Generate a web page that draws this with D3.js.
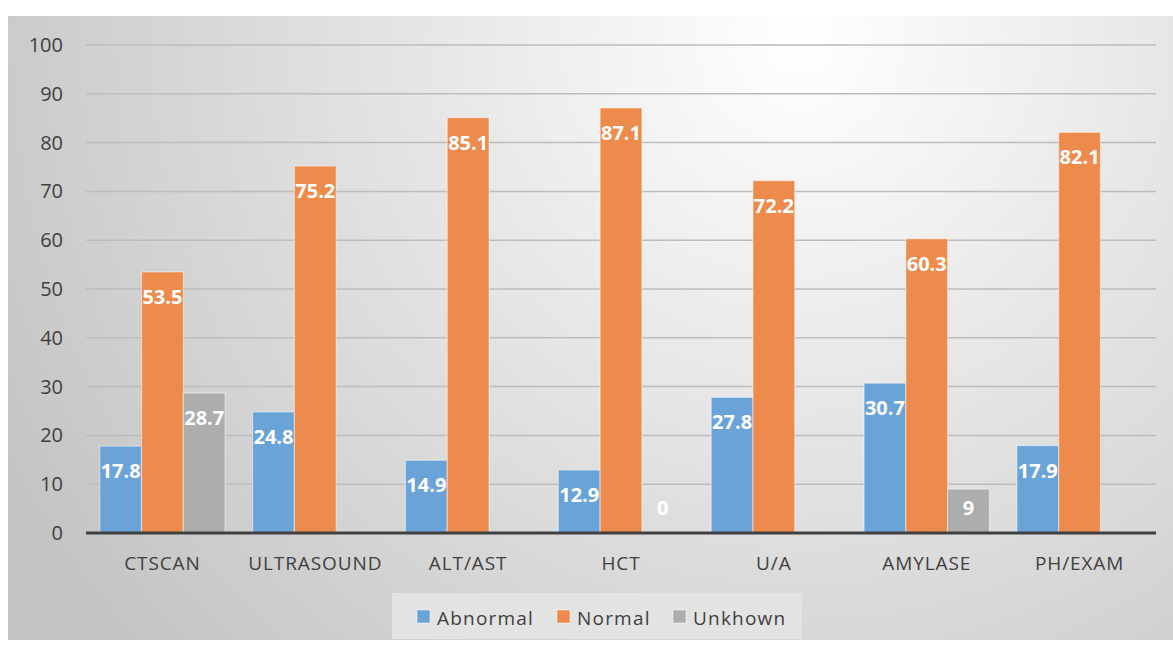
<!DOCTYPE html>
<html>
<head>
<meta charset="utf-8">
<script src="https://cdn.jsdelivr.net/npm/d3@7"></script>
<style>
  body { margin: 0; background: #fff; }
  svg { display: block; font-family: "Open Sans", "Liberation Sans", sans-serif; }
</style>
</head>
<body>
<svg id="chart" width="1173" height="651"></svg>
<script>
var categories = ["CTSCAN", "ULTRASOUND", "ALT/AST", "HCT", "U/A", "AMYLASE", "PH/EXAM"];
var seriesNames = ["Abnormal", "Normal", "Unkhown"];
var abnormal = [17.8, 24.8, 14.9, 12.9, 27.8, 30.7, 17.9];
var normal = [53.5, 75.2, 85.1, 87.1, 72.2, 60.3, 82.1];
var unknown = [28.7, null, null, 0, null, 9, null];
var yTicks = [0, 10, 20, 30, 40, 50, 60, 70, 80, 90, 100];

var colors = ["#6aa3d7", "#ed8b4c", "#adadad"];
var series = [abnormal, normal, unknown];
var FONT = "'Open Sans', 'Liberation Sans', sans-serif";

var svg = d3.select("#chart");
var W = 1173, H = 651;
var margin = {left: 86, right: 17, top: 45, bottom: 118};

// background gradient
var defs = svg.append("defs");
var grad = defs.append("radialGradient")
    .attr("id", "bg")
    .attr("gradientUnits", "userSpaceOnUse")
    .attr("cx", 800).attr("cy", 40).attr("r", 900);
grad.append("stop").attr("offset", "0%").attr("stop-color", "#ffffff");
grad.append("stop").attr("offset", "45%").attr("stop-color", "#e4e4e4");
grad.append("stop").attr("offset", "100%").attr("stop-color", "#c4c4c4");

svg.append("rect")
    .attr("x", 8).attr("y", 16)
    .attr("width", W - 8).attr("height", 624)
    .attr("fill", "url(#bg)");

var x = d3.scaleBand()
    .domain(categories)
    .range([margin.left, W - margin.right])
    .paddingInner(0.18)
    .paddingOuter(0.09);

var x1 = d3.scaleBand()
    .domain(d3.range(seriesNames.length))
    .range([0, x.bandwidth()]);

var y = d3.scaleLinear()
    .domain([0, 100])
    .range([H - margin.bottom, margin.top]);

// gridlines
svg.append("g")
  .selectAll("line")
  .data(yTicks.slice(1))
  .join("line")
    .attr("x1", margin.left).attr("x2", W - margin.right)
    .attr("y1", function(d){ return y(d); })
    .attr("y2", function(d){ return y(d); })
    .attr("stroke", "#bdbdbd")
    .attr("stroke-width", 1.5);

// y axis labels
var yAxis = d3.axisLeft(y).tickValues(yTicks).tickSize(0).tickPadding(23);
svg.append("g")
    .attr("transform", "translate(" + margin.left + ",0)")
    .call(yAxis)
    .attr("font-family", FONT)
    .call(function(g){ g.select(".domain").remove(); })
    .selectAll("text")
    .attr("fill", "#404040")
    .style("font-size", "20px");

// bars
var groups = svg.append("g")
  .selectAll("g")
  .data(categories)
  .join("g")
    .attr("transform", function(d){ return "translate(" + x(d) + ",0)"; });

groups.each(function(cat, ci){
    var g = d3.select(this);
    series.forEach(function(vals, si){
        var v = vals[ci];
        if (v === null) return;
        g.append("rect")
            .attr("x", x1(si))
            .attr("y", y(v))
            .attr("width", x1.bandwidth())
            .attr("height", y(0) - y(v))
            .attr("fill", colors[si])
            .attr("stroke", "rgba(255,255,255,0.45)")
            .attr("stroke-width", 1.2);
        g.append("text")
            .attr("x", x1(si) + x1.bandwidth() / 2)
            .attr("y", Math.min(y(v) + 32, y(0) - 18))
            .attr("text-anchor", "middle")
            .attr("fill", "#ffffff")
            .style("font-size", "20px")
            .style("font-weight", "bold")
            .text(v);
    });
});

// baseline
svg.append("line")
    .attr("x1", margin.left).attr("x2", W - margin.right)
    .attr("y1", y(0)).attr("y2", y(0))
    .attr("stroke", "#404040")
    .attr("stroke-width", 3);

// x axis labels
var xAxis = d3.axisBottom(x).tickSize(0).tickPadding(24);
svg.append("g")
    .attr("transform", "translate(0," + y(0) + ")")
    .call(xAxis)
    .attr("font-family", FONT)
    .call(function(g){ g.select(".domain").remove(); })
    .selectAll("text")
    .attr("fill", "#404040")
    .style("font-size", "19px")
    .style("letter-spacing", "0.9px");

// legend
var legend = svg.append("g");
legend.append("rect")
    .attr("x", 392).attr("y", 593)
    .attr("width", 410).attr("height", 46)
    .attr("fill", "#e3e3e3");
var legX = [417, 557, 673];
seriesNames.forEach(function(name, i){
    legend.append("rect")
        .attr("x", legX[i]).attr("y", 610)
        .attr("width", 13).attr("height", 13)
        .attr("fill", colors[i])
        .attr("stroke", "rgba(255,255,255,0.5)");
    legend.append("text")
        .attr("x", legX[i] + 20).attr("y", 625)
        .attr("fill", "#404040")
        .style("font-size", "19px")
        .style("letter-spacing", "1.2px")
        .text(name);
});
</script>
</body>
</html>
